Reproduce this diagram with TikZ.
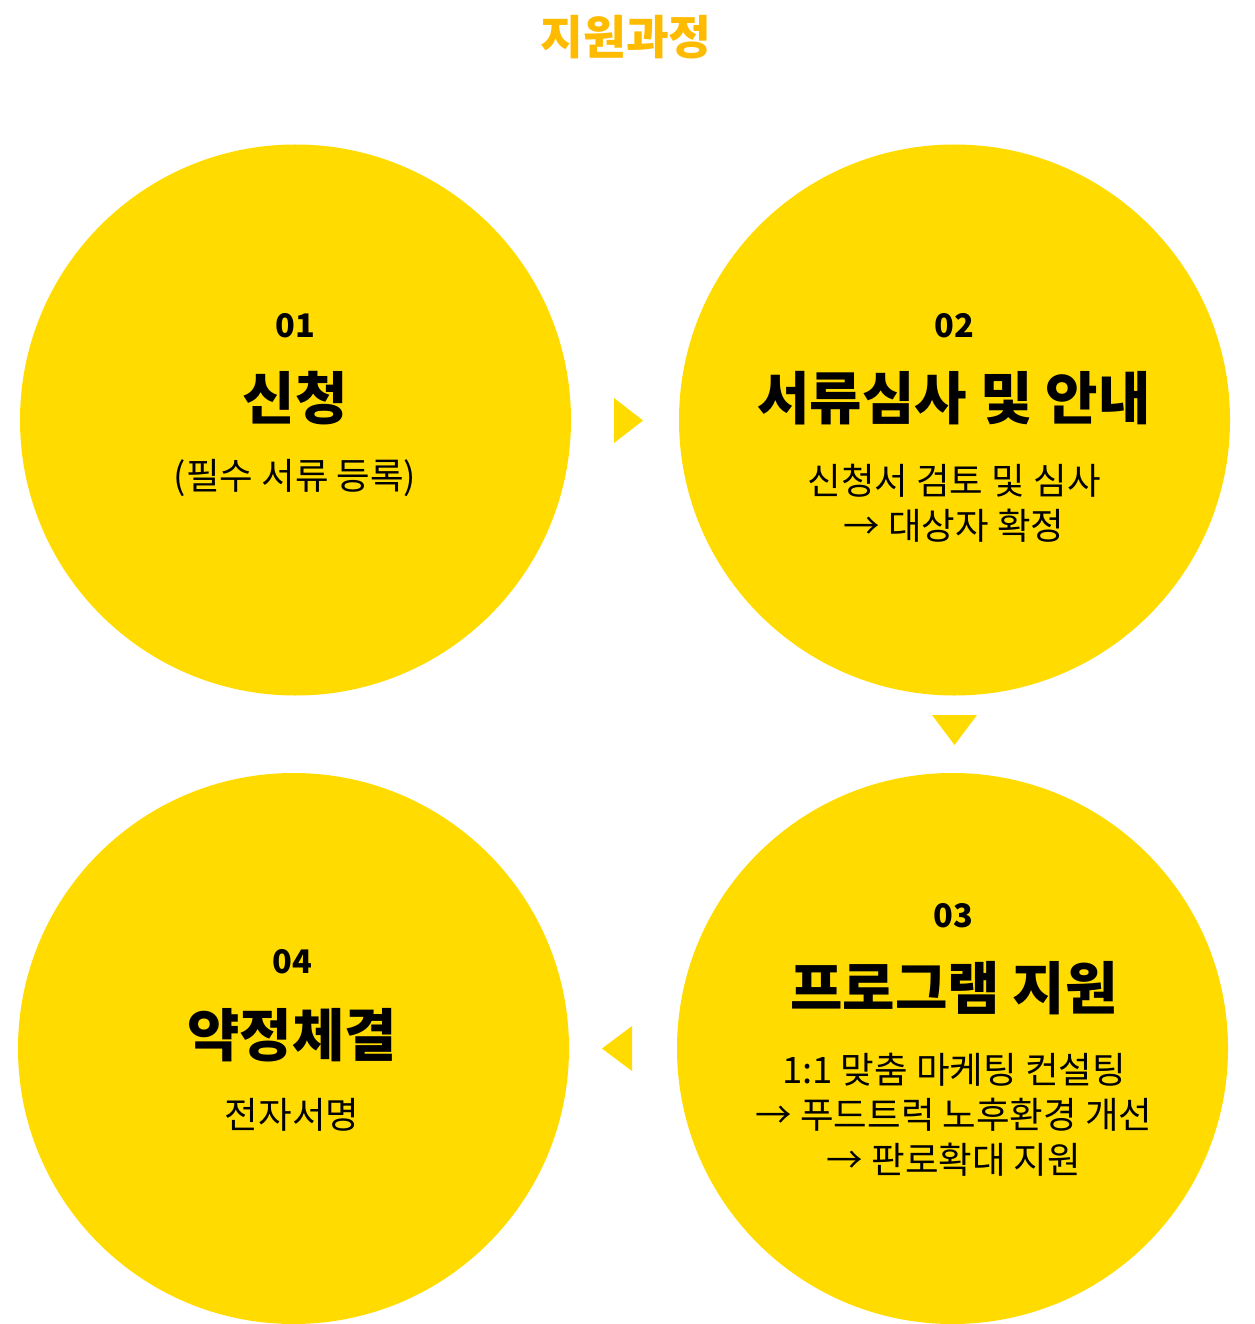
\documentclass[tikz,border=0pt]{standalone}
\usepackage{fontspec}
\setmainfont{Noto Sans CJK KR}
\definecolor{circy}{HTML}{FFDB00}
\definecolor{titleor}{HTML}{FFBB00}
\tikzset{
  stepcircle/.style={circle, fill=circy, draw=none, minimum size=551pt, inner sep=0pt},
  tri/.style={fill=circy, draw=none},
  numtxt/.style={font=\fontsize{32.5}{36}\selectfont\bfseries, text=black, inner sep=0pt},
  headtxt/.style={font=\fontsize{57}{62}\selectfont\bfseries, text=black, inner sep=0pt},
  desctxt/.style={font=\fontsize{36.5}{45}\selectfont, text=black, inner sep=0pt, align=center},
}
\begin{document}
\begin{tikzpicture}[x=1pt,y=-1pt]
\useasboundingbox (0,0) rectangle (1254,1324);
% title
\node[font=\fontsize{46.5}{52}\selectfont\bfseries, text=titleor, inner sep=0pt] (title) at (626,37) {지원과정};
% circles
\node[stepcircle] (c1) at (295.5,420) {};
\node[stepcircle] (c2) at (954.5,420) {};
\node[stepcircle] (c3) at (952.5,1048.5) {};
\node[stepcircle] (c4) at (293.5,1048.5) {};
% arrows (triangles)
\coordinate (t1a) at (614,398);
\coordinate (t1b) at (614,443);
\coordinate (t1c) at (643,420.5);
\fill[tri] (t1a) -- (t1b) -- (t1c) -- cycle;
\coordinate (t2a) at (932,715);
\coordinate (t2b) at (977,715);
\coordinate (t2c) at (954.5,745);
\fill[tri] (t2a) -- (t2b) -- (t2c) -- cycle;
\coordinate (t3a) at (632,1026);
\coordinate (t3b) at (632,1071);
\coordinate (t3c) at (602,1048.5);
\fill[tri] (t3a) -- (t3b) -- (t3c) -- cycle;
% circle 1
\node[numtxt] (n1) at (295,326) {01};
\node[headtxt] (h1) at (295,398) {신청};
\node[desctxt] (d1) at (295,478) {(필수 서류 등록)};
% circle 2
\node[numtxt] (n2) at (954,326) {02};
\node[headtxt] (h2) at (954,398) {서류심사 및 안내};
\node[desctxt] (d2) at (954,503) {신청서 검토 및 심사\\→ 대상자 확정};
% circle 3
\node[numtxt] (n3) at (953,916) {03};
\node[headtxt] (h3) at (954,988) {프로그램 지원};
\node[desctxt] (d3) at (954,1115) {1:1 맞춤 마케팅 컨설팅\\→ 푸드트럭 노후환경 개선\\→ 판로확대 지원};
% circle 4
\node[numtxt] (n4) at (292,962) {04};
\node[headtxt] (h4) at (292,1035) {약정체결};
\node[desctxt] (d4) at (292,1115) {전자서명};
\end{tikzpicture}
\end{document}
